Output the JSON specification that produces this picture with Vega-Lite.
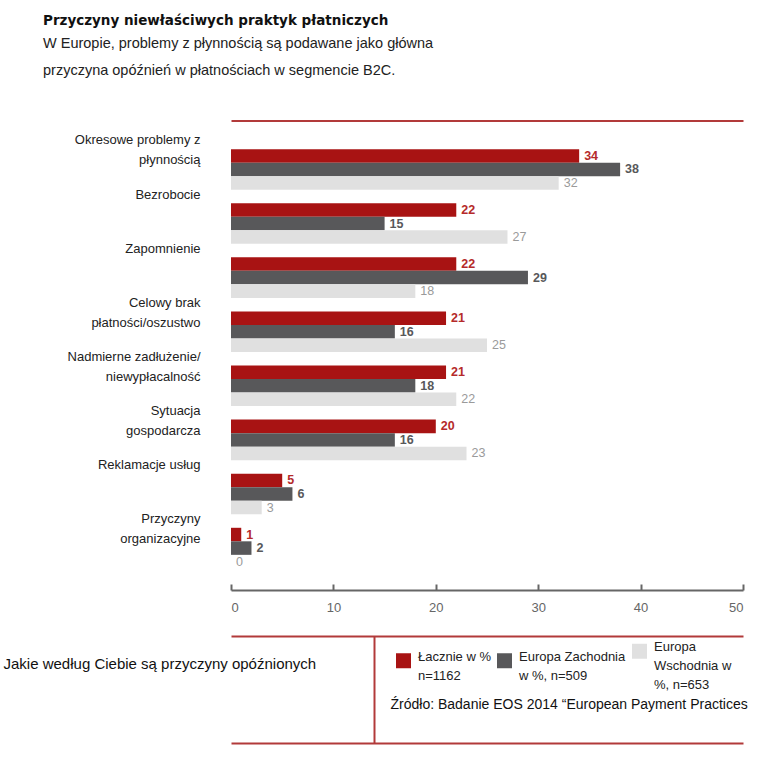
{
  "$schema": "https://vega.github.io/schema/vega-lite/v6.json",
  "width": 512,
  "height": 462.5,
  "autosize": {"type": "none"},
  "padding": {"left": 231, "top": 127.5, "right": 36, "bottom": 170},
  "background": "white",
  "config": {"view": {"stroke": null}, "style": {"guide-label": {"lineHeight": 19}}},
  "title": {
    "text": "Przyczyny niewłaściwych praktyk płatniczych",
    "subtitle": ["W Europie, problemy z płynnością są podawane jako główna", "przyczyna opóźnień w płatnościach w segmencie B2C."],
    "anchor": "start",
    "frame": "group",
    "dx": -188,
    "offset": 43,
    "font": "DejaVu Sans",
    "fontSize": 13.5,
    "fontWeight": "bold",
    "color": "#111111",
    "subtitleFont": "Liberation Sans",
    "subtitleFontSize": 14.5,
    "subtitleColor": "#222222",
    "subtitleLineHeight": 27,
    "subtitlePadding": 10
  },
  "data": {
    "values": [
      {"przyczyna": "Okresowe problemy z płynnością", "seria": "Łacznie w %, n=1162", "wartosc": 34},
      {"przyczyna": "Okresowe problemy z płynnością", "seria": "Europa Zachodnia w %, n=509", "wartosc": 38},
      {"przyczyna": "Okresowe problemy z płynnością", "seria": "Europa Wschodnia w %, n=653", "wartosc": 32},
      {"przyczyna": "Bezrobocie", "seria": "Łacznie w %, n=1162", "wartosc": 22},
      {"przyczyna": "Bezrobocie", "seria": "Europa Zachodnia w %, n=509", "wartosc": 15},
      {"przyczyna": "Bezrobocie", "seria": "Europa Wschodnia w %, n=653", "wartosc": 27},
      {"przyczyna": "Zapomnienie", "seria": "Łacznie w %, n=1162", "wartosc": 22},
      {"przyczyna": "Zapomnienie", "seria": "Europa Zachodnia w %, n=509", "wartosc": 29},
      {"przyczyna": "Zapomnienie", "seria": "Europa Wschodnia w %, n=653", "wartosc": 18},
      {"przyczyna": "Celowy brak płatności/oszustwo", "seria": "Łacznie w %, n=1162", "wartosc": 21},
      {"przyczyna": "Celowy brak płatności/oszustwo", "seria": "Europa Zachodnia w %, n=509", "wartosc": 16},
      {"przyczyna": "Celowy brak płatności/oszustwo", "seria": "Europa Wschodnia w %, n=653", "wartosc": 25},
      {"przyczyna": "Nadmierne zadłużenie/niewypłacalność", "seria": "Łacznie w %, n=1162", "wartosc": 21},
      {"przyczyna": "Nadmierne zadłużenie/niewypłacalność", "seria": "Europa Zachodnia w %, n=509", "wartosc": 18},
      {"przyczyna": "Nadmierne zadłużenie/niewypłacalność", "seria": "Europa Wschodnia w %, n=653", "wartosc": 22},
      {"przyczyna": "Sytuacja gospodarcza", "seria": "Łacznie w %, n=1162", "wartosc": 20},
      {"przyczyna": "Sytuacja gospodarcza", "seria": "Europa Zachodnia w %, n=509", "wartosc": 16},
      {"przyczyna": "Sytuacja gospodarcza", "seria": "Europa Wschodnia w %, n=653", "wartosc": 23},
      {"przyczyna": "Reklamacje usług", "seria": "Łacznie w %, n=1162", "wartosc": 5},
      {"przyczyna": "Reklamacje usług", "seria": "Europa Zachodnia w %, n=509", "wartosc": 6},
      {"przyczyna": "Reklamacje usług", "seria": "Europa Wschodnia w %, n=653", "wartosc": 3},
      {"przyczyna": "Przyczyny organizacyjne", "seria": "Łacznie w %, n=1162", "wartosc": 1},
      {"przyczyna": "Przyczyny organizacyjne", "seria": "Europa Zachodnia w %, n=509", "wartosc": 2},
      {"przyczyna": "Przyczyny organizacyjne", "seria": "Europa Wschodnia w %, n=653", "wartosc": 0}
    ]
  },
  "encoding": {
    "y": {
      "field": "przyczyna",
      "type": "nominal",
      "sort": null,
      "scale": {"paddingInner": 0.25, "paddingOuter": 0.4},
      "axis": {
        "title": null,
        "domain": false,
        "ticks": false,
        "labelPadding": 31,
        "labelFont": "Liberation Sans",
        "labelFontSize": 13,
        "labelColor": "#222222",
        "labelOffset": -29,
        "labelLineHeight": 20,
        "labelLimit": 300,
        "labelExpr": "datum.label == 'Okresowe problemy z płynnością' ? ['Okresowe problemy z', 'płynnością'] : datum.label == 'Celowy brak płatności/oszustwo' ? ['Celowy brak', 'płatności/oszustwo'] : datum.label == 'Nadmierne zadłużenie/niewypłacalność' ? ['Nadmierne zadłużenie/', 'niewypłacalność'] : datum.label == 'Sytuacja gospodarcza' ? ['Sytuacja', 'gospodarcza'] : datum.label == 'Przyczyny organizacyjne' ? ['Przyczyny', 'organizacyjne'] : datum.label"
      }
    },
    "yOffset": {
      "field": "seria",
      "type": "nominal",
      "sort": ["Łacznie w %, n=1162", "Europa Zachodnia w %, n=509", "Europa Wschodnia w %, n=653"],
      "scale": {"paddingInner": 0, "paddingOuter": 0}
    }
  },
  "layer": [
    {
      "mark": {"type": "bar"},
      "encoding": {
        "x": {
          "field": "wartosc",
          "type": "quantitative",
          "scale": {"domain": [0, 50]},
          "axis": {
            "orient": "bottom",
            "values": [0, 10, 20, 30, 40, 50],
            "grid": false,
            "domainColor": "#666666",
            "domainWidth": 2,
            "tickColor": "#666666",
            "tickWidth": 2,
            "tickSize": -6,
            "labelPadding": 17,
            "labelFont": "Liberation Sans",
            "labelFontSize": 13,
            "labelColor": "#666666",
            "title": "Jakie według Ciebie są przyczyny opóźnionych",
            "titleX": -228,
            "titleY": 73,
            "titleAlign": "left",
            "titleBaseline": "middle",
            "titleFont": "Liberation Sans",
            "titleFontSize": 15,
            "titleFontWeight": "normal",
            "titleColor": "#111111"
          }
        },
        "color": {
          "field": "seria",
          "type": "nominal",
          "scale": {
            "domain": ["Łacznie w %, n=1162", "Europa Zachodnia w %, n=509", "Europa Wschodnia w %, n=653"],
            "range": ["#a81313", "#58585a", "#e0e0e0"]
          },
          "legend": {
            "orient": "none",
            "legendX": 165,
            "legendY": 516,
            "direction": "horizontal",
            "columns": 3,
            "title": null,
            "padding": 0,
            "symbolType": "square",
            "symbolSize": 225,
            "symbolStrokeWidth": 0,
            "labelFont": "Liberation Sans",
            "labelFontSize": 13,
            "labelColor": "#222222",
            "labelBaseline": "alphabetic",
            "labelOffset": 7,
            "columnPadding": 6,
            "labelLimit": 200,
            "labelExpr": "datum.label == 'Łacznie w %, n=1162' ? ['Łacznie w %', 'n=1162'] : datum.label == 'Europa Zachodnia w %, n=509' ? ['Europa Zachodnia', 'w %, n=509'] : ['Europa', 'Wschodnia w', '%, n=653']"
          }
        }
      }
    },
    {
      "transform": [{"filter": "datum.seria == 'Łacznie w %, n=1162'"}],
      "mark": {"type": "text", "align": "left", "baseline": "middle", "dx": 5, "font": "Liberation Sans", "fontSize": 12.5, "fontWeight": "bold", "color": "#b52a2a"},
      "encoding": {
        "x": {
          "field": "wartosc",
          "type": "quantitative",
          "scale": {"domain": [0, 50]},
          "axis": {"orient": "top", "offset": 7, "domainColor": "#b23a3a", "domainWidth": 2, "ticks": false, "labels": false, "grid": false, "title": null}
        },
        "text": {"field": "wartosc", "type": "quantitative"}
      }
    },
    {
      "transform": [{"filter": "datum.seria == 'Europa Zachodnia w %, n=509'"}],
      "mark": {"type": "text", "align": "left", "baseline": "middle", "dx": 5, "font": "Liberation Sans", "fontSize": 12.5, "fontWeight": "bold", "color": "#58585a"},
      "encoding": {
        "x": {
          "field": "wartosc",
          "type": "quantitative",
          "scale": {"domain": [0, 50]},
          "axis": {"orient": "bottom", "offset": 46, "domainColor": "#b23a3a", "domainWidth": 2, "values": [14], "ticks": true, "tickColor": "#b23a3a", "tickWidth": 2, "tickSize": 107, "labels": false, "grid": false, "title": null}
        },
        "text": {"field": "wartosc", "type": "quantitative"}
      }
    },
    {
      "transform": [{"filter": "datum.seria == 'Europa Wschodnia w %, n=653'"}],
      "mark": {"type": "text", "align": "left", "baseline": "middle", "dx": 5, "font": "Liberation Sans", "fontSize": 12.5, "color": "#9a9a9a"},
      "encoding": {
        "x": {
          "field": "wartosc",
          "type": "quantitative",
          "scale": {"domain": [0, 50]},
          "axis": {
            "orient": "bottom",
            "offset": 153,
            "domainColor": "#b23a3a",
            "domainWidth": 2,
            "ticks": false,
            "labels": false,
            "grid": false,
            "title": "Źródło: Badanie EOS 2014 “European Payment Practices",
            "titleX": 159,
            "titleY": -39,
            "titleAlign": "left",
            "titleBaseline": "middle",
            "titleFont": "Liberation Sans",
            "titleFontSize": 14,
            "titleFontWeight": "normal",
            "titleColor": "#111111"
          }
        },
        "text": {"field": "wartosc", "type": "quantitative"}
      }
    }
  ],
  "resolve": {"axis": {"x": "independent"}}
}
